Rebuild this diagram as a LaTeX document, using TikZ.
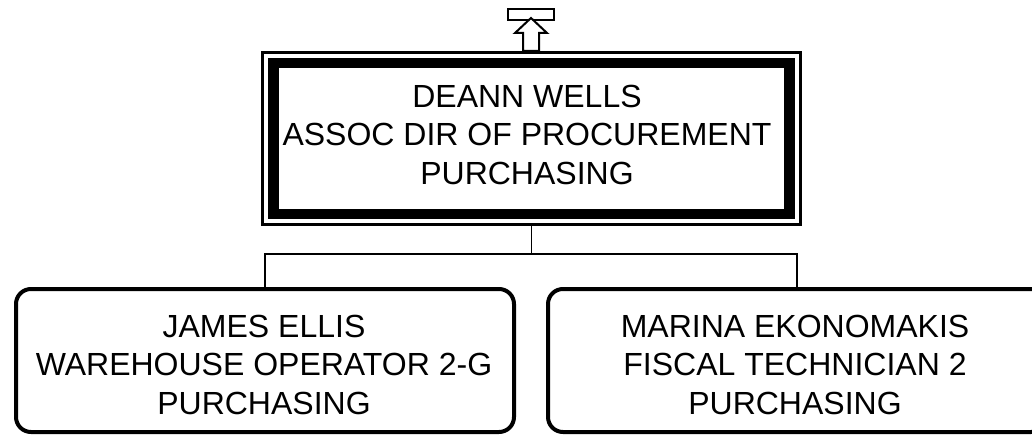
\documentclass[tikz,border=0pt]{standalone}
\usepackage{fontspec}
\setmainfont{Liberation Sans}
\begin{document}
\begin{tikzpicture}[x=1pt,y=-1pt,
  txt/.style={align=center,inner sep=0pt,font=\fontsize{32}{38.5}\selectfont},
  thickbox/.style={draw,line width=10.6pt,inner sep=0pt,minimum width=516pt,minimum height=151pt},
  thinframe/.style={draw,line width=2.7pt,inner sep=0pt,minimum width=538pt,minimum height=172pt},
  personbox/.style={draw,line width=4pt,rounded corners=15pt,inner sep=0pt,minimum width=498pt,minimum height=143pt},
  conn/.style={line width=1.7pt},
  upbox/.style={draw,line width=2.2pt,inner sep=0pt,minimum width=46pt,minimum height=11pt,fill=white}
]
\useasboundingbox (0,0) rectangle (1032,436);
\clip (0,0) rectangle (1032,436);
% top manager
\node[thinframe] (topouter) at (531.5,138.5) {};
\node[thickbox] (top) at (531.5,138.5) {};
\node[txt] (toptext) at (527,134.5) {DEANN WELLS\\ASSOC DIR OF PROCUREMENT\\PURCHASING};
% up indicator
\node[upbox] (up) at (531,14.5) {};
\coordinate (ab) at (531,51);
\draw[line width=2pt,fill=white,line join=miter]
  ([xshift=-8pt]ab) -- ++(0,-18) -- ++(-8,0) -- (531,18) -- (547,33) -- (539,33) -- ([xshift=8pt]ab) -- cycle;
% subordinates
\node[personbox] (left) at (265,360.5) {};
\node[txt] (lefttext) at (264,364.5) {JAMES ELLIS\\WAREHOUSE OPERATOR 2-G\\PURCHASING};
\node[personbox] (right) at (797,360.5) {};
\node[txt] (righttext) at (795,364.5) {MARINA EKONOMAKIS\\FISCAL TECHNICIAN 2\\PURCHASING};
% connectors
\coordinate (bus) at (531.5,254);
\draw[conn] (topouter.south) -- (bus);
\draw[conn] (bus) -| (left.north);
\draw[conn] (bus) -| (right.north);
\end{tikzpicture}
\end{document}
